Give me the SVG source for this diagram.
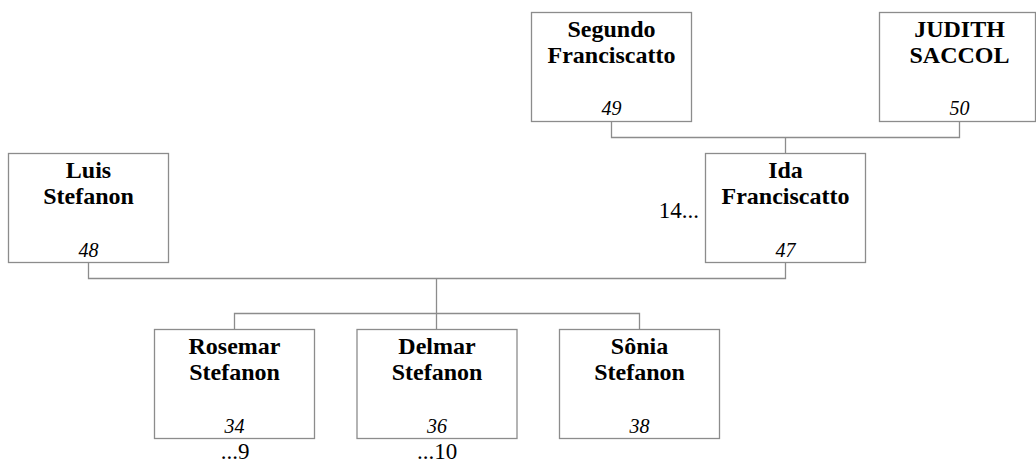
<svg xmlns="http://www.w3.org/2000/svg" width="1036" height="463" viewBox="0 0 1036 463">
<style>
.box{fill:#fff;stroke:#8c8c8c;stroke-width:1.3}
.name{font-family:"Liberation Serif","Times New Roman",serif;font-weight:bold;font-size:24px;text-anchor:middle;fill:#000}
.num{font-family:"Liberation Serif","Times New Roman",serif;font-style:italic;font-size:20px;text-anchor:middle;fill:#000}
.ref{font-family:"Liberation Serif","Times New Roman",serif;font-size:23px;fill:#000}
.conn{fill:none;stroke:#8c8c8c;stroke-width:1.3}
</style>
<rect width="1036" height="463" fill="#fff"/>
<g id="connectors">
<path class="conn" d="M611.5 121.5 V137.5 H959.5 V121.5"/>
<path class="conn" d="M785.5 137.5 V153.5"/>
<path class="conn" d="M88.5 262.5 V278.5 H785.5 V262.5"/>
<path class="conn" d="M436.5 278.5 V329.5"/>
<path class="conn" d="M234.5 329.5 V313.5 H639.5 V329.5"/>
</g>
<g id="segundo">
<rect class="box" x="531.5" y="12.5" width="160" height="109"/>
<text class="name" x="611.5" y="37">Segundo</text>
<text class="name" x="611.5" y="63">Franciscatto</text>
<text class="num" x="611.5" y="115">49</text>
</g>
<g id="judith">
<rect class="box" x="879.5" y="12.5" width="156" height="109"/>
<text class="name" x="959.5" y="37">JUDITH</text>
<text class="name" x="959.5" y="63">SACCOL</text>
<text class="num" x="959.5" y="115">50</text>
</g>
<g id="luis">
<rect class="box" x="8.5" y="153.5" width="160" height="109"/>
<text class="name" x="88.5" y="178">Luis</text>
<text class="name" x="88.5" y="204">Stefanon</text>
<text class="num" x="88.5" y="256.5">48</text>
</g>
<g id="ida">
<rect class="box" x="705.5" y="153.5" width="160" height="109"/>
<text class="name" x="785.5" y="178">Ida</text>
<text class="name" x="785.5" y="204">Franciscatto</text>
<text class="num" x="785.5" y="256.5">47</text>
<text class="ref" x="699" y="218" text-anchor="end">14...</text>
</g>
<g id="rosemar">
<rect class="box" x="154.5" y="329.5" width="160" height="109"/>
<text class="name" x="234.5" y="354">Rosemar</text>
<text class="name" x="234.5" y="380">Stefanon</text>
<text class="num" x="234.5" y="432.5">34</text>
<text class="ref" x="235" y="459" text-anchor="middle">...9</text>
</g>
<g id="delmar">
<rect class="box" x="357" y="329.5" width="160" height="109"/>
<text class="name" x="437" y="354">Delmar</text>
<text class="name" x="437" y="380">Stefanon</text>
<text class="num" x="437" y="432.5">36</text>
<text class="ref" x="437" y="459" text-anchor="middle">...10</text>
</g>
<g id="sonia">
<rect class="box" x="559.5" y="329.5" width="160" height="109"/>
<text class="name" x="639.5" y="354">Sônia</text>
<text class="name" x="639.5" y="380">Stefanon</text>
<text class="num" x="639.5" y="432.5">38</text>
</g>
</svg>
